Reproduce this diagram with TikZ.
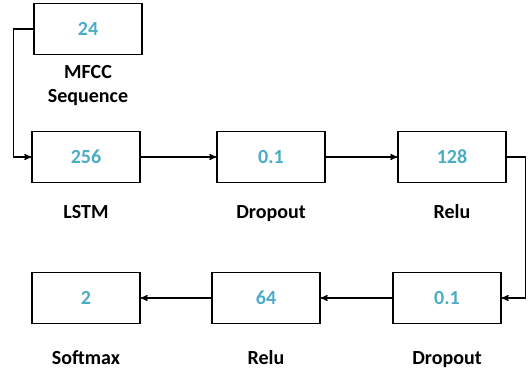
\documentclass[tikz,border=0pt]{standalone}
\usepackage{fontspec}
\setmainfont{Carlito}
\usepackage{tikz}
\usetikzlibrary{arrows}
\definecolor{numblue}{HTML}{4BACC6}

\begin{document}
\begin{tikzpicture}[x=0.75pt, y=-0.75pt, >=stealth', line width=0.9pt,
    layer/.style={draw, minimum width=81pt, minimum height=38pt, inner sep=0pt,
                  text=numblue, font=\bfseries\fontsize{15}{17}\selectfont},
    lbl/.style={align=center, anchor=base, font=\bfseries\fontsize{15}{18}\selectfont}]
    \useasboundingbox (0,0) rectangle (532,374);

    % Layers {input, lstm, drop, etc}
    \node [layer]   (inp)    at (88,29)   {24};
    \node [layer]   (lstm)   at (86,157)  {256};
    \node [layer]   (drop1)  at (271,157) {0.1};
    \node [layer]   (relu1)  at (452,157) {128};
    \node [layer]   (drop2)  at (447,298) {0.1};
    \node [layer]   (relu2)  at (266,298) {64};
    \node [layer]   (soft)   at (86,298)  {2};

    % Labels
    \node [lbl]     (inplbl)   at (88,103)  {MFCC\\Sequence};
    \node [lbl]     (lstmlbl)  at (86,219)  {LSTM};
    \node [lbl]     (drop1lbl) at (271,219) {Dropout};
    \node [lbl]     (relu1lbl) at (452,219) {Relu};
    \node [lbl]     (drop2lbl) at (447,364) {Dropout};
    \node [lbl]     (relu2lbl) at (266,364) {Relu};
    \node [lbl]     (softlbl)  at (86,364)  {Softmax};

    % Paths
    \draw [->]  (inp.west) -- ++(-20,0) |- (lstm.west);
    \draw [->]  (lstm)  -- (drop1);
    \draw [->]  (drop1) -- (relu1);
    \draw [->]  (relu1.east) -- ++(19,0) |- (drop2.east);
    \draw [->]  (drop2) -- (relu2);
    \draw [->]  (relu2) -- (soft);

\end{tikzpicture}
\end{document}
